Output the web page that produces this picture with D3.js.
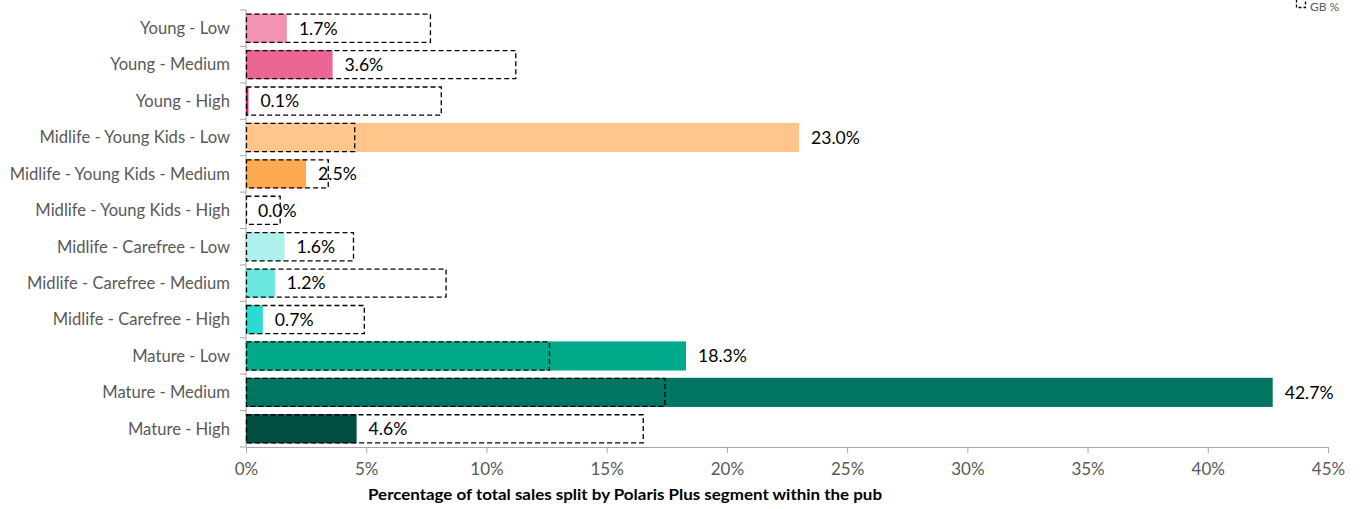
<!DOCTYPE html>
<html>
<head>
<meta charset="utf-8">
<script src="https://cdn.jsdelivr.net/npm/d3@7"></script>
<style>
  body { margin: 0; background: #fff; }
  svg { font-family: Lato, "Open Sans", sans-serif; }
</style>
</head>
<body>
<div id="chart"></div>
<script>
// segments, top to bottom
var segments = [
  "Young - Low", "Young - Medium", "Young - High",
  "Midlife - Young Kids - Low", "Midlife - Young Kids - Medium", "Midlife - Young Kids - High",
  "Midlife - Carefree - Low", "Midlife - Carefree - Medium", "Midlife - Carefree - High",
  "Mature - Low", "Mature - Medium", "Mature - High"
];
var pubPct = [1.7, 3.6, 0.1, 23.0, 2.5, 0.0, 1.6, 1.2, 0.7, 18.3, 42.7, 4.6];
var gbPct = [7.65, 11.2, 8.1, 4.5, 3.4, 1.4, 4.45, 8.3, 4.9, 12.6, 17.4, 16.5];
var colors = [
  "#f293b4", "#ec6595", "#e0196b",
  "#ffc58a", "#ffa950", "#ff8a1e",
  "#aef0eb", "#6be8e0", "#2adbd3",
  "#00a98a", "#007562", "#014d3f"
];
var ticks = [0, 5, 10, 15, 20, 25, 30, 35, 40, 45];

var data = segments.map(function (s, i) {
  return { name: s, pub: pubPct[i], gb: gbPct[i], color: colors[i] };
});

var svg = d3.select("#chart").append("svg");
svg.attr("width", 1371).attr("height", 509);
var margin = { top: 10, left: 246, bottom: 62, right: 43 };
var width = 1371 - margin.left - margin.right;
var height = 509 - margin.top - margin.bottom;

var x = d3.scaleLinear().domain([0, 45]).range([margin.left, margin.left + width]);
var y = d3.scaleBand()
  .domain(segments)
  .range([margin.top, margin.top + height])
  .paddingInner(0.2)
  .paddingOuter(0.1);

// x axis
var xAxis = svg.append("g")
  .attr("transform", `translate(0,${margin.top + height})`)
  .call(d3.axisBottom(x).tickValues(ticks).tickFormat((d) => d + "%").tickSize(6).tickSizeOuter(0));
xAxis.select(".domain").attr("stroke", "#a6a6a6");
xAxis.selectAll(".tick line").attr("stroke", "#a6a6a6");
xAxis.selectAll(".tick text")
  .attr("fill", "#595959")
  .attr("font-size", 17)
  .attr("font-family", "Lato, sans-serif")
  .attr("dy", "1.1em");

// y axis with ticks between categories
var yAxis = svg.append("g").attr("transform", `translate(${margin.left},0)`);
yAxis.append("line")
  .attr("x1", 0).attr("x2", 0)
  .attr("y1", margin.top).attr("y2", margin.top + height)
  .attr("stroke", "#a6a6a6");
var step = height / segments.length;
yAxis.selectAll("line.sep")
  .data(d3.range(segments.length + 1))
  .enter().append("line")
  .attr("class", "sep")
  .attr("x1", -6).attr("x2", 0)
  .attr("y1", (i) => margin.top + i * step)
  .attr("y2", (i) => margin.top + i * step)
  .attr("stroke", "#a6a6a6");
yAxis.selectAll("text")
  .data(segments)
  .enter().append("text")
  .attr("x", -16)
  .attr("y", (d) => y(d) + y.bandwidth() / 2)
  .attr("dy", "0.35em")
  .attr("text-anchor", "end")
  .attr("fill", "#595959")
  .attr("font-size", 16.6)
  .text((d) => d);

// pub bars
svg.append("g")
  .selectAll("rect")
  .data(data)
  .enter().append("rect")
  .attr("x", x(0))
  .attr("y", (d) => y(d.name))
  .attr("width", (d) => x(d.pub) - x(0))
  .attr("height", y.bandwidth())
  .attr("fill", (d) => d.color);

// GB % dashed outlines
svg.append("g")
  .selectAll("rect")
  .data(data)
  .enter().append("rect")
  .attr("x", x(0) + 0.5)
  .attr("y", (d) => y(d.name) + 0.5)
  .attr("width", (d) => x(d.gb) - x(0))
  .attr("height", y.bandwidth() - 1)
  .attr("fill", "none")
  .attr("stroke", "#000")
  .attr("stroke-width", 1.3)
  .attr("stroke-dasharray", "5,3");

// value labels
svg.append("g")
  .selectAll("text")
  .data(data)
  .enter().append("text")
  .attr("x", (d) => x(d.pub) + 12)
  .attr("y", (d) => y(d.name) + y.bandwidth() / 2)
  .attr("dy", "0.36em")
  .attr("fill", "#000")
  .attr("font-size", 17.6)
  .text((d) => d.pub.toFixed(1) + "%");

// axis title
svg.append("text")
  .attr("x", 625)
  .attr("y", 500)
  .attr("text-anchor", "middle")
  .attr("font-weight", "bold")
  .attr("font-size", 15.5)
  .attr("fill", "#000")
  .attr("textLength", 514)
  .attr("lengthAdjust", "spacingAndGlyphs")
  .text("Percentage of total sales split by Polaris Plus segment within the pub");

// legend at the top edge
var lg = svg.append("g");
lg.append("rect")
  .attr("x", 1296.5).attr("y", -4.5)
  .attr("width", 9).attr("height", 12)
  .attr("fill", "none")
  .attr("stroke", "#000")
  .attr("stroke-width", 1.3)
  .attr("stroke-dasharray", "3,2");
lg.append("text")
  .attr("x", 1310).attr("y", 11)
  .attr("fill", "#595959")
  .attr("font-size", 12)
  .text("GB %");
</script>
</body>
</html>
